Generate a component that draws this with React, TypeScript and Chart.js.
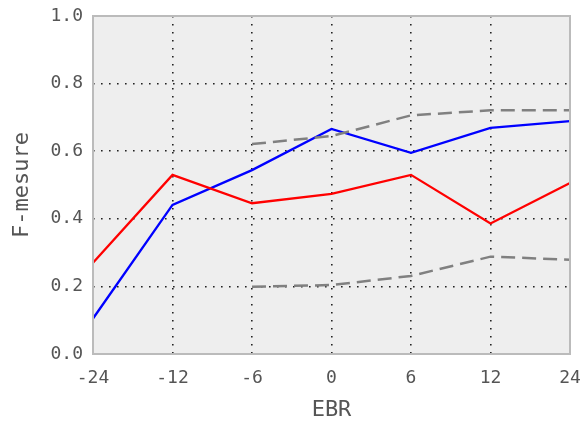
import React, { useEffect, useRef } from "react";
import { Chart, registerables } from "chart.js";

Chart.register(...registerables);

const categories = ["-24", "-12", "-6", "0", "6", "12", "24"];
const redSeries = [0.27, 0.53, 0.446, 0.474, 0.53, 0.386, 0.506];
const blueSeries = [0.105, 0.441, 0.544, 0.666, 0.595, 0.669, 0.689];
const grayUpper = [null, null, 0.621, 0.645, 0.706, 0.721, 0.721];
const grayLower = [null, null, 0.199, 0.204, 0.231, 0.288, 0.279];
const yTicks = [0, 0.2, 0.4, 0.6, 0.8, 1.0];

const FONT = "'DejaVu Sans Mono', monospace";

const framePlugin = {
  id: "frame",
  beforeDraw(chart: any) {
    const { ctx, chartArea } = chart;
    ctx.save();
    ctx.fillStyle = "#eeeeee";
    ctx.fillRect(chartArea.left, chartArea.top, chartArea.right - chartArea.left, chartArea.bottom - chartArea.top);
    ctx.restore();
  },
  afterDraw(chart: any) {
    const { ctx, chartArea } = chart;
    ctx.save();
    ctx.strokeStyle = "#bbbbbb";
    ctx.lineWidth = 2;
    ctx.strokeRect(chartArea.left, chartArea.top, chartArea.right - chartArea.left, chartArea.bottom - chartArea.top);
    ctx.restore();
  },
};

export default function App() {
  const ref = useRef<HTMLCanvasElement | null>(null);
  useEffect(() => {
    if (!ref.current) return;
    const chart = new Chart(ref.current, {
      type: "line",
      data: {
        labels: categories,
        datasets: [
          { data: grayUpper, borderColor: "#808080", borderWidth: 2.5, borderDash: [14, 7], pointRadius: 0, fill: false, spanGaps: false },
          { data: grayLower, borderColor: "#808080", borderWidth: 2.5, borderDash: [14, 7], pointRadius: 0, fill: false, spanGaps: false },
          { data: redSeries, borderColor: "#ff0000", borderWidth: 2.3, pointRadius: 0, fill: false },
          { data: blueSeries, borderColor: "#0000ff", borderWidth: 2.3, pointRadius: 0, fill: false },
        ],
      },
      options: {
        animation: false,
        responsive: false,
        events: [],
        layout: { padding: { top: 16, right: 14, left: 0, bottom: 0 } },
        plugins: { legend: { display: false }, tooltip: { enabled: false } },
        elements: { line: { tension: 0 } },
        scales: {
          x: {
            type: "category",
            offset: false,
            grid: { color: "#222222", lineWidth: 1.6, drawTicks: false },
            border: { display: false, dash: [1.6, 6.4] },
            ticks: { color: "#555555", font: { family: FONT, size: 18 }, padding: 14, maxRotation: 0, autoSkip: false },
            title: { display: true, text: "EBR", color: "#555555", font: { family: FONT, size: 22 }, padding: { top: 2, bottom: 0 } },
            afterFit(scale: any) { scale.height = 69; scale.paddingLeft = 0; scale.paddingRight = 0; },
          },
          y: {
            min: 0,
            max: 1,
            afterBuildTicks(scale: any) { scale.ticks = yTicks.map((v) => ({ value: v })); },
            grid: { color: "#222222", lineWidth: 1.6, drawTicks: false },
            border: { display: false, dash: [1.6, 6.4] },
            ticks: { color: "#555555", font: { family: FONT, size: 18 }, padding: 10, callback: (v: any) => Number(v).toFixed(1) },
            title: { display: true, text: "F-mesure", color: "#555555", font: { family: FONT, size: 22 }, padding: { top: 9, bottom: 0 } },
            afterFit(scale: any) { scale.width = 93; scale.paddingTop = 0; scale.paddingBottom = 0; },
          },
        },
      },
      plugins: [framePlugin],
    } as any);
    return () => chart.destroy();
  }, []);
  return (
    <div style={{ position: "fixed", left: 0, top: 0, width: 584, height: 423, background: "#ffffff" }}>
      <canvas ref={ref} width={584} height={423} style={{ width: 584, height: 423 }} />
    </div>
  );
}
